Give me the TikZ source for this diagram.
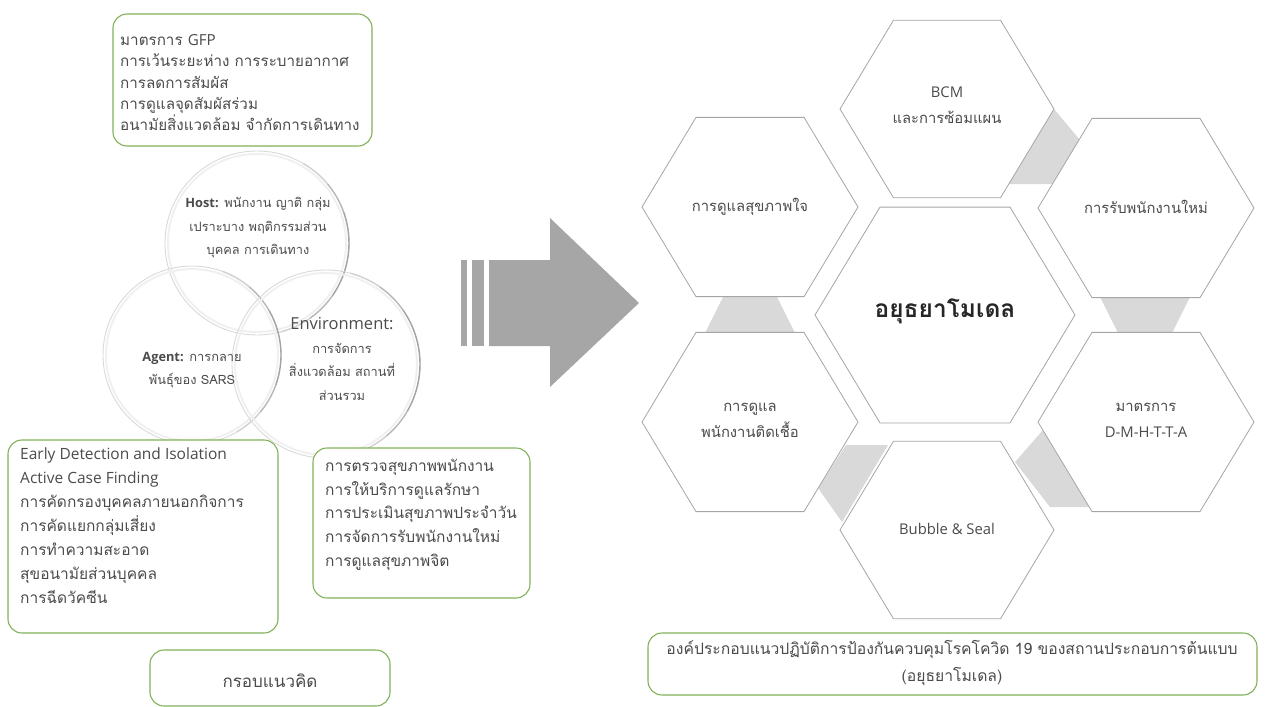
\documentclass[tikz,border=0pt]{standalone}
\usepackage{fontspec}
\setmainfont[Script=Thai]{Loma}
\newfontfamily\latin{Open Sans}
\usetikzlibrary{calc}

\definecolor{framegreen}{RGB}{128,178,90}
\definecolor{txtgray}{RGB}{75,75,75}
\definecolor{hexgray}{RGB}{165,165,165}
\definecolor{linkgray}{RGB}{217,217,217}
\definecolor{arrowgray}{RGB}{166,166,166}

\tikzset{
  greenbox/.style={draw=framegreen, line width=1.1pt, rounded corners=14pt, fill=white},
  boxtext/.style={text=txtgray, align=left, inner sep=0pt, font=\fontsize{15.5}{24}\selectfont},
  hexline/.style={draw=hexgray, line width=0.8pt, fill=white},
  hextext/.style={text=txtgray, align=center, inner sep=0pt, font=\fontsize{14.8}{26}\selectfont},
  circtext/.style={text=txtgray, align=center, inner sep=0pt, font=\fontsize{12.8}{23.5}\selectfont},
  ring/.style={draw=gray!30, line width=0.9pt},
}

% flat-topped hexagon: centre x, centre y, half width
\newcommand{\hexcell}[3]{%
  \draw[hexline] (#1-#3,#2) -- (#1-#3/2,#2-0.83*#3) -- (#1+#3/2,#2-0.83*#3)
    -- (#1+#3,#2) -- (#1+#3/2,#2+0.83*#3) -- (#1-#3/2,#2+0.83*#3) -- cycle;}

% glass ring: name, radius, from angle, to angle
\newcommand{\glassring}[4]{%
  \draw[ring] (#1) circle (#2);
  \draw[gray!12, line width=2pt] (#1) circle (#2-3pt);
  \foreach \a/\b/\c in {#3/#3-20/35, #3-20/#3-40/55, #3-40/#4+40/72, #4+40/#4+20/55, #4+20/#4/35} {
    \draw[gray!\c, line width=1.4pt] (#1) ++(\a:#2) arc[start angle=\a, end angle=\b, radius=#2];
  }}

\begin{document}
\begin{tikzpicture}[x=1pt, y=-1pt]
    \useasboundingbox (0,0) rectangle (1267,707);

    % three circles of the model
    \coordinate (host) at (257,243);
    \coordinate (agent) at (192,355);
    \coordinate (env) at (326,364);
    \glassring{host}{92pt}{60}{-75}
    \glassring{agent}{89pt}{70}{-60}
    \glassring{env}{94pt}{75}{-70}

    \node[circtext] (hosttxt) at (258,228) {{\latin\bfseries Host:} พนักงาน ญาติ กลุ่ม\\เปราะบาง พฤติกรรมส่วน\\บุคคล การเดินทาง};
    \node[circtext] (agenttxt) at (192,370) {{\latin\bfseries Agent:} การกลาย\\พันธุ์ของ SARS};
    \node[circtext] (envtxt) at (342,359) {{\latin\fontsize{16.5}{23.5}\selectfont Environment:}\\การจัดการ\\สิ่งแวดล้อม สถานที่\\ส่วนรวม};

    % green boxes on the left
    \draw[greenbox] (113,14) rectangle (372,146);
    \node[boxtext, anchor=north west, font=\fontsize{15.2}{21.4}\selectfont] (gfp) at (120,34) {มาตรการ {\latin GFP}\\การเว้นระยะห่าง การระบายอากาศ\\การลดการสัมผัส\\การดูแลจุดสัมผัสร่วม\\อนามัยสิ่งแวดล้อม จำกัดการเดินทาง};

    \draw[greenbox] (8,440) rectangle (278,633);
    \node[boxtext, anchor=north west] (detect) at (20,448) {{\latin Early Detection and Isolation}\\{\latin Active Case Finding}\\การคัดกรองบุคคลภายนอกกิจการ\\การคัดแยกกลุ่มเสี่ยง\\การทำความสะอาด\\สุขอนามัยส่วนบุคคล\\การฉีดวัคซีน};

    \draw[greenbox] (313,448) rectangle (530,598);
    \node[boxtext, anchor=north west, font=\fontsize{15.5}{23.7}\selectfont] (health) at (325,459) {การตรวจสุขภาพพนักงาน\\การให้บริการดูแลรักษา\\การประเมินสุขภาพประจำวัน\\การจัดการรับพนักงานใหม่\\การดูแลสุขภาพจิต};

    \draw[greenbox] (150,650) rectangle (390,706);
    \node[boxtext, font=\fontsize{17}{24}\selectfont] (frame) at (270,681) {กรอบแนวคิด};

    % big arrow
    \fill[arrowgray] (461,260) rectangle (467,346);
    \fill[arrowgray] (472,260) rectangle (484,346);
    \fill[arrowgray] (489,260) -- (550,260) -- (550,218) -- (639,303)
        -- (550,387) -- (550,346) -- (489,346) -- cycle;

    % grey links between the hexagons
    \fill[linkgray] (1054,109) -- (1080,140) -- (1053,184) -- (1008,184) -- cycle;
    \fill[linkgray] (1100,297) -- (1190,297) -- (1172,333) -- (1118,333) -- cycle;
    \fill[linkgray] (1043,430) -- (1090,507) -- (1050,507) -- (1015,462) -- cycle;
    \fill[linkgray] (846,445) -- (888,445) -- (842,522) -- (818,488) -- cycle;
    \fill[linkgray] (723,297) -- (777,297) -- (795,333) -- (705,333) -- cycle;

    % hexagons
    \hexcell{947}{109}{107}
    \hexcell{750}{207}{108}
    \hexcell{1146}{208}{108}
    \hexcell{945}{315}{130}
    \hexcell{750}{422}{108}
    \hexcell{1146}{422}{108}
    \hexcell{947}{530}{107}

    \node[hextext] (bcm) at (947,105) {{\latin BCM}\\และการซ้อมแผน};
    \node[hextext] (mind) at (750,207) {การดูแลสุขภาพใจ};
    \node[hextext] (newstaff) at (1146,207) {การรับพนักงานใหม่};
    \node[hextext, text=black!85, font=\fontsize{24.5}{30}\selectfont\bfseries] (model) at (945,311) {อยุธยาโมเดล};
    \node[hextext] (infected) at (750,420) {การดูแล\\พนักงานติดเชื้อ};
    \node[hextext] (dmhtta) at (1146,420) {มาตรการ\\{\latin D-M-H-T-T-A}};
    \node[hextext] (bubble) at (947,529) {{\latin Bubble \& Seal}};

    % caption
    \draw[greenbox] (648,633) rectangle (1257,695);
    \node[boxtext, align=center, font=\fontsize{15.7}{27}\selectfont] (caption) at (952,663) {องค์ประกอบแนวปฏิบัติการป้องกันควบคุมโรคโควิด 19 ของสถานประกอบการต้นแบบ\\(อยุธยาโมเดล)};
\end{tikzpicture}
\end{document}
